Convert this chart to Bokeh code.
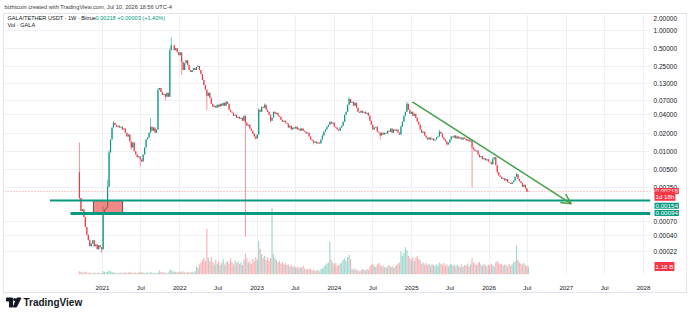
import datetime as dt
from bokeh.plotting import figure
from bokeh.models import (Range1d, LinearScale, FixedTicker, CustomJSTickFormatter, Label,
                          Arrow, OpenHead, ColumnDataSource)
from bokeh.layouts import column
from bokeh.embed import file_html
from bokeh.resources import INLINE
from bokeh.core.properties import value

# ---------------- data (weekly GALA/USDT, Bitrue) ----------------
first_week = dt.datetime(2020, 9, 14)
first_open = 0.0045
closes = [
    0.00170, 0.00103, 0.00110, 0.00082, 0.00056, 0.00042, 0.00034, 0.00027, 0.00030, 0.00034,
    0.00027, 0.00029, 0.00024, 0.00028, 0.00026, 0.00024, 0.00092, 0.00110, 0.00118, 0.0026,
    0.0096, 0.0157, 0.0247, 0.0298, 0.0276, 0.0256, 0.0266, 0.0247, 0.0256, 0.0229,
    0.0238, 0.0204, 0.0176, 0.0190, 0.0146, 0.0116, 0.0140, 0.0100, 0.0089, 0.0080,
    0.0083, 0.0074, 0.0068, 0.0089, 0.0116, 0.0157, 0.0170, 0.0204, 0.0256, 0.0220,
    0.0247, 0.0204, 0.0229, 0.104, 0.112, 0.096, 0.086, 0.089, 0.080, 0.0927,
    0.080, 0.470, 0.567, 0.567, 0.470, 0.507, 0.435, 0.389, 0.435, 0.300,
    0.221, 0.287, 0.322, 0.267, 0.221, 0.205, 0.221, 0.238, 0.221, 0.247,
    0.257, 0.221, 0.190, 0.151, 0.125, 0.104, 0.083, 0.0927, 0.0766, 0.061,
    0.0545, 0.0566, 0.0525, 0.0588, 0.0545, 0.061, 0.0566, 0.0634, 0.0566, 0.066,
    0.061, 0.0487, 0.0451, 0.0435, 0.0388, 0.0403, 0.0360, 0.0374, 0.0347, 0.0360,
    0.0322, 0.0388, 0.0298, 0.0266, 0.0276, 0.0238, 0.0220, 0.0197, 0.0176, 0.0163,
    0.0190, 0.0487, 0.0451, 0.0545, 0.0525, 0.0588, 0.0487, 0.0451, 0.0403, 0.0322,
    0.0360, 0.0451, 0.0418, 0.0435, 0.0388, 0.0374, 0.0334, 0.0310, 0.0322, 0.0298,
    0.0287, 0.0247, 0.0266, 0.0229, 0.0247, 0.0238, 0.0256, 0.0229, 0.0238, 0.0220,
    0.0238, 0.0220, 0.0212, 0.0197, 0.0204, 0.0176, 0.0157, 0.0151, 0.0140, 0.0146,
    0.0135, 0.0140, 0.0135, 0.0157, 0.0183, 0.0212, 0.0229, 0.0256, 0.0276, 0.0310,
    0.0287, 0.0298, 0.0256, 0.0247, 0.0229, 0.0220, 0.0247, 0.0266, 0.0310, 0.0403,
    0.0451, 0.0588, 0.0737, 0.0634, 0.066, 0.0566, 0.0634, 0.0525, 0.0451, 0.0435,
    0.047, 0.0435, 0.0451, 0.0418, 0.0435, 0.0388, 0.0322, 0.0276, 0.0229, 0.0247,
    0.0256, 0.0212, 0.0204, 0.0183, 0.0204, 0.0190, 0.0204, 0.0197, 0.0220, 0.0212,
    0.0238, 0.0204, 0.0229, 0.0220, 0.0229, 0.0204, 0.0190, 0.0256, 0.0310, 0.0388,
    0.0451, 0.061, 0.0487, 0.0418, 0.0451, 0.0388, 0.0418, 0.0360, 0.0310, 0.0276,
    0.0229, 0.0204, 0.0212, 0.0183, 0.0170, 0.0157, 0.0170, 0.0157, 0.0163, 0.0151,
    0.0157, 0.0170, 0.0176, 0.0212, 0.0197, 0.0170, 0.0157, 0.0146, 0.0130, 0.0140,
    0.0157, 0.0176, 0.0170, 0.0183, 0.0163, 0.0176, 0.0163, 0.0170, 0.0157, 0.0170,
    0.0163, 0.0151, 0.0157, 0.0146, 0.0151, 0.0116, 0.0107, 0.0100, 0.0103, 0.0089,
    0.0080, 0.0083, 0.0074, 0.0077, 0.0071, 0.0074, 0.0068, 0.0066, 0.0061, 0.0074,
    0.0080, 0.0059, 0.0045, 0.0040, 0.0038, 0.0035, 0.0036, 0.0033, 0.0035, 0.0031,
    0.0030, 0.0029, 0.0031, 0.0033, 0.0038, 0.0042, 0.0035, 0.0032, 0.0030, 0.0026,
    0.0028, 0.00245, 0.00215, 0.00218,
]
wick_high = {0: 0.0140, 16: 0.00125, 19: 0.0034, 20: 0.0105, 23: 0.0315, 41: 0.0080,
             48: 0.0360, 53: 0.110, 61: 0.50, 62: 0.768, 69: 0.36, 80: 0.267, 99: 0.068,
             121: 0.052, 125: 0.062, 164: 0.019, 182: 0.080, 217: 0.027, 221: 0.066,
             243: 0.023, 279: 0.0080, 295: 0.0044}
wick_low = {0: 0.0016, 15: 0.00021, 35: 0.0105, 41: 0.0057, 58: 0.070, 69: 0.183,
            86: 0.0487, 112: 0.00039, 119: 0.0155, 129: 0.030, 158: 0.013, 203: 0.0157,
            248: 0.0125, 265: 0.00255, 282: 0.0043, 303: 0.00212}
volumes_b = (
    [0.5, 0.4, 0.3, 0.3, 0.4, 0.3, 0.2, 0.3, 0.2, 0.2, 0.3, 0.2, 0.2, 0.3, 0.2, 0.2]
    + [0.5, 0.4, 0.3, 0.4, 0.6, 0.5, 0.4, 0.3, 0.3, 0.2, 0.3, 0.2, 0.3, 0.2, 0.3]
    + [0.3, 0.2, 0.3, 0.4, 0.3, 0.2, 0.3, 0.3, 0.2, 0.3, 0.4, 0.3, 0.3, 0.2, 0.3]
    + [0.3, 0.2, 0.4, 0.3, 0.2, 0.3, 0.2, 0.3, 0.6, 0.4, 0.3, 0.3, 0.3, 0.2, 0.3]
    + [0.7, 0.6, 0.5, 0.4, 0.4, 0.3, 0.4, 0.3, 0.5, 0.4, 0.3, 0.3, 0.4, 0.3, 0.3, 0.4, 0.3, 0.5]
    + [1.2, 1.0, 1.5, 1.8, 2.2, 2.5, 2.0]
    + [6.8]
    + [2.5, 2.0, 2.6, 1.8, 1.5, 2.2, 1.6, 1.9, 1.4, 1.7, 2.3, 1.5, 1.8, 2.0, 1.6, 2.4, 1.9, 1.5,
       2.1, 1.7, 2.0, 1.6, 1.8, 1.4, 2.2]
    + [3.1]
    + [2.4, 1.8, 2.0, 1.6, 2.3, 1.9, 2.6, 2.2]
    + [5.0]
    + [3.8, 3.0, 2.5, 2.8, 2.2, 2.6, 2.0, 2.4]
    + [9.9]
    + [3.0, 2.5, 2.2, 1.8, 2.0, 1.6, 1.9, 1.5, 1.7, 1.4]
    + [1.5, 1.2, 1.4, 1.1, 1.3, 1.0, 1.2, 0.9, 1.1, 1.0, 1.3, 0.9]
    + [0.8, 0.7, 0.9, 0.8, 0.6, 0.7, 0.5, 0.6, 0.7, 0.5, 0.8, 0.9, 1.2]
    + [1.4, 1.6, 1.8, 4.9, 2.2]
    + [1.8, 1.5, 1.7, 1.3, 1.4, 1.6, 1.8, 2.2, 2.4, 2.0, 2.6, 2.9, 2.3]
    + [0.8, 0.7, 0.9, 0.6, 0.7, 0.5, 0.6, 0.8, 0.7, 0.6, 0.8, 0.7]
    + [1.2, 1.4, 1.6, 1.3, 1.1, 1.5, 1.7, 1.4, 1.2, 1.3, 1.1, 1.0, 1.2, 1.4, 1.1, 1.3, 1.0, 1.2,
       1.4, 1.6, 1.8]
    + [3.4, 2.8, 3.2, 4.1, 3.6]
    + [2.8, 2.5, 2.2, 2.6, 2.0, 2.4, 2.8, 2.3, 2.1]
    + [1.6, 1.8, 1.5, 1.7, 1.4, 1.6, 1.3, 1.5, 1.4, 1.2, 1.5, 1.3, 1.8, 1.6, 1.4, 1.7, 1.3, 1.5,
       1.2, 1.4, 1.6, 1.3, 1.5, 1.2, 1.4, 1.3, 1.1, 1.5, 1.2, 1.4, 1.3, 1.6, 1.2, 1.5]
    + [2.4]
    + [1.8, 1.6, 1.4, 1.7, 1.9, 1.5, 1.3, 1.6, 1.4, 1.2, 1.5, 1.3, 1.6, 1.4, 1.2, 1.8, 2.0, 1.7,
       1.5, 1.6, 1.3, 1.5, 1.4, 1.2, 1.6, 1.3, 1.5, 1.8, 2.0]
    + [4.3]
    + [2.2, 1.8, 1.6, 1.5, 1.7, 1.4, 1.3, 1.18]
)

top_price_tick = 2.0
price_ticks = [1.0, 0.5, 0.25, 0.13, 0.07, 0.04, 0.02, 0.01, 0.005, 0.0025, 0.0007,
               0.0004, 0.00022]
time_tick_dates = ["2021-01-01", "2021-07-01", "2022-01-01", "2022-07-01", "2023-01-01",
                   "2023-07-01", "2024-01-01", "2024-07-01", "2025-01-01", "2025-07-01",
                   "2026-01-01", "2026-07-01", "2027-01-01", "2027-07-01", "2028-01-01"]
time_tick_labels = ["2021", "Jul", "2022", "Jul", "2023", "Jul", "2024", "Jul", "2025", "Jul",
                    "2026", "Jul", "2027", "Jul", "2028"]

last_price = 0.00218
support_levels = [0.00154, 0.00094]
support_from = ["2020-04-28", "2020-08-03"]
zone_dates = ["2020-11-19", "2021-04-06"]
zone_prices = [0.00094, 0.00154]
trend_dates = ["2025-01-04", "2027-01-25"]
trend_prices = [0.066, 0.00136]

# ---------------- derived ----------------
FONT = "Liberation Sans"
GREEN, RED = "#089981", "#f23645"
WEEK_MS = 7 * 24 * 3600 * 1000
EPOCH = dt.datetime(1970, 1, 1)


def d(s):
    return dt.datetime.strptime(s, "%Y-%m-%d")


def ms(x):
    return (x - EPOCH).total_seconds() * 1000.0


n = len(closes)
dates = [first_week + dt.timedelta(weeks=i) for i in range(n)]
opens = [first_open] + closes[:-1]
highs = [wick_high.get(i, max(opens[i], closes[i])) for i in range(n)]
lows = [wick_low.get(i, min(opens[i], closes[i])) for i in range(n)]
up = [closes[i] >= opens[i] for i in range(n)]
src = ColumnDataSource(dict(
    date=dates, open=opens, close=closes, high=highs, low=lows, vol=volumes_b[:n],
    top=[max(o, c) for o, c in zip(opens, closes)],
    bottom=[min(o, c) for o, c in zip(opens, closes)],
    color=[GREEN if u else RED for u in up],
))

# time window of the pane; the price scale strip starts where the plotting area ends
x_start, strip_start, x_end = dt.datetime(2019, 9, 26), dt.datetime(2028, 2, 3), dt.datetime(2028, 7, 22)
y_lo, y_hi = 9.22e-5, 1.83

# ---------------- header strip ----------------
h = figure(width=690, height=13, x_range=Range1d(0, 690), y_range=Range1d(13, 0),
           output_backend="svg", toolbar_location=None, min_border=0,
           x_axis_location=None, y_axis_location=None)
h.outline_line_color = None
h.grid.visible = False
h.text(x=[3], y=[6.5], text=["bizhicoin created with TradingView.com, Jul 10, 2026 18:56 UTC-4"],
       text_font=value(FONT), text_font_size="5.7px", text_color="#3b3b3b",
       text_baseline="middle", text_align="left")

# ---------------- main chart ----------------
p = figure(width=684, height=280, x_axis_type="datetime", y_axis_type="log",
           y_axis_location=None, x_range=Range1d(x_start, x_end),
           y_range=Range1d(y_lo, y_hi), output_backend="svg", toolbar_location=None,
           min_border_left=1, min_border_right=1, min_border_top=1, min_border_bottom=17,
           margin=(0, 3, 0, 3))
p.outline_line_color = None
p.border_fill_color = None
p.background_fill_color = None
p.styles = {"box-shadow": "inset 0 0 0 1px #e0e3eb"}

p.extra_y_ranges = {"vol": Range1d(0, 38.6)}
p.extra_y_scales = {"vol": LinearScale()}

tick_ms = [ms(d(s)) for s in time_tick_dates]
xa = p.xaxis[0]
xa.ticker = FixedTicker(ticks=tick_ms)
xa.formatter = CustomJSTickFormatter(args=dict(t=tick_ms, l=time_tick_labels), code="""
let b = 0;
for (let k = 0; k < t.length; k++) { if (Math.abs(t[k] - tick) < Math.abs(t[b] - tick)) b = k; }
return l[b];
""")
xa.axis_line_color = None
xa.major_tick_line_color = None
xa.minor_tick_line_color = None
xa.major_label_standoff = 3
xa.major_label_text_font = FONT
xa.major_label_text_font_size = "6.2px"
xa.major_label_text_color = "#131722"

p.xgrid.ticker = FixedTicker(ticks=tick_ms)
p.ygrid.ticker = FixedTicker(ticks=price_ticks)
p.grid.grid_line_color = "#eef0f4"
p.grid.grid_line_width = 1

# volume
p.vbar(x="date", top="vol", bottom=0, width=WEEK_MS * 0.8, fill_color="color",
       fill_alpha=0.38, line_color=None, y_range_name="vol", source=src)

# last-price dotted line
p.segment(x0=[x_start], y0=[last_price], x1=[strip_start], y1=[last_price], line_color=RED,
          line_alpha=0.55, line_dash="1 2", line_width=1)

# candles
p.segment(x0="date", y0="low", x1="date", y1="high", line_color="color", line_alpha=0.55,
          line_width=1, source=src)
p.vbar(x="date", top="top", bottom="bottom", width=WEEK_MS * 0.8, fill_color="color",
       line_color=None, source=src)

# zone rectangle
p.quad(left=[d(zone_dates[0])], right=[d(zone_dates[1])], bottom=[zone_prices[0]],
       top=[zone_prices[1]], fill_color="#e53935", fill_alpha=0.6, line_color="#555555",
       line_width=1)

# support lines
p.segment(x0=[d(support_from[0])], y0=[support_levels[0]], x1=[strip_start], y1=[support_levels[0]],
          line_color=GREEN, line_width=2)
p.segment(x0=[d(support_from[1])], y0=[support_levels[1]], x1=[strip_start], y1=[support_levels[1]],
          line_color=GREEN, line_width=3)

# trend arrow
p.add_layout(Arrow(x_start=ms(d(trend_dates[0])), y_start=trend_prices[0],
                   x_end=ms(d(trend_dates[1])), y_end=trend_prices[1],
                   line_color="#43a047", line_width=1.5,
                   end=OpenHead(size=10, line_color="#43a047", line_width=1.5)))

# price scale strip (white background, tick labels placed through the log scale)
p.quad(left=[strip_start], right=[x_end], bottom=[y_lo / 10], top=[y_hi * 10],
       fill_color="white", line_color=None)
p.text(x=[strip_start] * len(price_ticks), y=price_ticks,
       text=[f"{t:.5f}" for t in price_ticks], x_offset=3,
       text_font=value(FONT), text_font_size="6.5px", text_color="#131722",
       text_baseline="middle", text_align="left")
# the top tick sits at the upper edge of the pane: nudged down so it stays readable
p.text(x=[strip_start], y=[y_hi], text=[f"{top_price_tick:.5f}"], x_offset=3, y_offset=1,
       text_font=value(FONT), text_font_size="6.5px", text_color="#131722",
       text_baseline="top", text_align="left")


def lab(txt, sx, sy, size, color, bg=None):
    kw = dict(text=txt, x=sx, y=sy, x_units="screen", y_units="screen",
              text_font_size=f"{size}px", text_color=color, text_font=FONT,
              text_align="left", text_baseline="middle")
    if bg:
        kw.update(background_fill_color=bg, background_fill_alpha=1.0, padding=1)
    p.add_layout(Label(**kw))


# legend inside the pane (frame-relative screen coords)
lab("GALA/TETHER USDT · 1W · Bitrue", 3, 256.7, 5.6, "#131722")
lab("0.00218  +0.00003 (+1.40%)", 91, 256.7, 5.6, GREEN)
lab("Vol · GALA", 3, 250, 5.6, "#131722")

# price-scale labels
lab("0.00218", 650, 83.6, 6.2, "white", bg=RED)
lab("1d 18h", 650, 78.2, 6.2, "white", bg=RED)
lab("0.00154", 650, 68.7, 6.2, "white", bg=GREEN)
lab("0.00094", 650, 61.6, 6.2, "white", bg=GREEN)
lab("1.18 B", 650, 8, 6.2, "white", bg=RED)

# ---------------- footer ----------------
f = figure(width=690, height=23, x_range=Range1d(0, 690), y_range=Range1d(316, 293),
           output_backend="svg", toolbar_location=None, min_border=0,
           x_axis_location=None, y_axis_location=None)
f.outline_line_color = None
f.grid.visible = False
f.patch(x=[5, 11, 11, 8, 8, 5], y=[297.5, 297.5, 306.5, 306.5, 300.5, 300.5], color="#131722")
f.scatter(x=[13.2], y=[299], size=3, color="#131722", line_color=None)
f.patch(x=[15.5, 19.5, 15, 11.8], y=[297.5, 297.5, 306.5, 306.5], color="#131722")
f.text(x=[22], y=[302], text=["TradingView"], text_font=value(FONT), text_font_size="10px",
       text_font_style="bold", text_color="#131722", text_baseline="middle", text_align="left")

layout = column(h, p, f, spacing=0)
open("out.html", "w").write(file_html(layout, INLINE))
